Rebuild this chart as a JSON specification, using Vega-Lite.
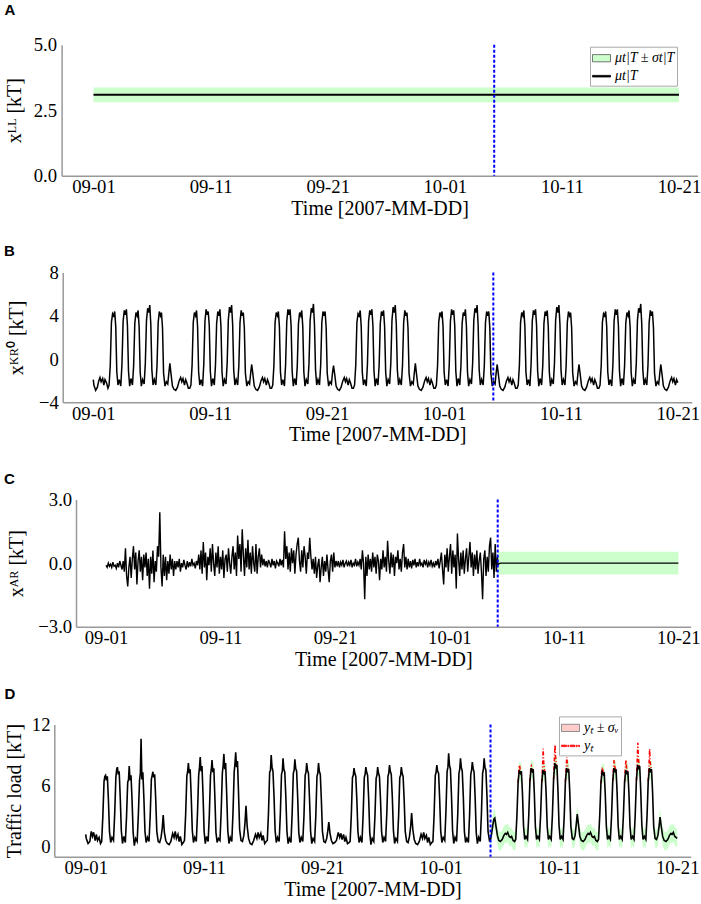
{
  "$schema": "https://vega.github.io/schema/vega-lite/v6.json",
  "padding": {"left": 0, "top": 2.7, "right": 0, "bottom": 0},
  "background": "white",
  "datasets": {
    "A": [{"t":0,"m":3.09,"lo":2.8,"hi":3.37},{"t":50,"m":3.09,"lo":2.8,"hi":3.37}],
    "cut": [{"t":34.22}],
    "legA": [{"lab":"μt|T ± σt|T"},{"lab":"μt|T"}],
    "legD": [{"lab":"yₜ ± σᵥ"},{"lab":"yₜ"}],
    "Cb": [{"t":34.22,"lo":-0.54,"hi":0.54},{"t":50,"lo":-0.54,"hi":0.54}],
    "B": [
      {"t":0,"v":-1.9},{"t":0.05,"v":-2.4},{"t":0.2,"v":-2.9},{"t":0.35,"v":-2.6},{"t":0.47,"v":-2.0},{"t":0.57,"v":-1.7},{"t":0.67,"v":-2.1},{"t":0.8,"v":-1.8},{"t":0.9,"v":-2.4},{"t":1.0,"v":-1.9},{"t":1.13,"v":-2.2},{"t":1.25,"v":-2.7},
      {"t":1.35,"v":-2.4},{"t":1.45,"v":-0.6},{"t":1.55,"v":3.4},{"t":1.65,"v":4.2},{"t":1.75,"v":4.0},{"t":1.83,"v":4.4},{"t":1.92,"v":3.0},{"t":2.01,"v":-1.2},{"t":2.11,"v":-2.4},{"t":2.22,"v":-1.9},
      {"t":2.35,"v":-2.5},{"t":2.45,"v":-0.5},{"t":2.55,"v":3.5},{"t":2.65,"v":4.5},{"t":2.75,"v":4.1},{"t":2.83,"v":4.6},{"t":2.92,"v":3.1},{"t":3.01,"v":-1.1},{"t":3.11,"v":-2.5},{"t":3.22,"v":-1.8},
      {"t":3.35,"v":-2.4},{"t":3.45,"v":-0.6},{"t":3.55,"v":3.3},{"t":3.65,"v":4.3},{"t":3.75,"v":4.0},{"t":3.83,"v":4.5},{"t":3.92,"v":3.0},{"t":4.01,"v":-1.2},{"t":4.11,"v":-2.5},{"t":4.22,"v":-1.9},
      {"t":4.35,"v":-2.3},{"t":4.45,"v":-0.4},{"t":4.55,"v":3.6},{"t":4.65,"v":4.7},{"t":4.75,"v":4.3},{"t":4.83,"v":5.0},{"t":4.92,"v":3.2},{"t":5.01,"v":-1.0},{"t":5.11,"v":-2.4},{"t":5.22,"v":-1.9},
      {"t":5.35,"v":-2.4},{"t":5.45,"v":-0.6},{"t":5.55,"v":3.4},{"t":5.65,"v":4.4},{"t":5.75,"v":4.0},{"t":5.83,"v":4.3},{"t":5.92,"v":2.9},{"t":6.01,"v":-1.3},
      {"t":6.13,"v":-2.5},{"t":6.25,"v":-2.1},{"t":6.37,"v":-2.3},{"t":6.47,"v":-1.2},{"t":6.55,"v":-0.4},{"t":6.65,"v":-1.4},{"t":6.77,"v":-2.5},{"t":6.9,"v":-2.8},{"t":7.05,"v":-2.9},{"t":7.2,"v":-2.6},{"t":7.35,"v":-2.0},{"t":7.47,"v":-1.7},{"t":7.57,"v":-2.1},{"t":7.67,"v":-1.8},{"t":7.8,"v":-2.4},{"t":7.9,"v":-1.9},{"t":8.0,"v":-2.2},{"t":8.13,"v":-2.7},{"t":8.25,"v":-2.7},
      {"t":8.35,"v":-2.4},{"t":8.45,"v":-0.6},{"t":8.55,"v":3.4},{"t":8.65,"v":4.3},{"t":8.75,"v":4.0},{"t":8.83,"v":4.5},{"t":8.92,"v":3.0},{"t":9.01,"v":-1.2},{"t":9.11,"v":-2.4},{"t":9.22,"v":-1.9},
      {"t":9.35,"v":-2.5},{"t":9.45,"v":-0.5},{"t":9.55,"v":3.5},{"t":9.65,"v":4.6},{"t":9.75,"v":4.1},{"t":9.83,"v":4.4},{"t":9.92,"v":3.1},{"t":10.01,"v":-1.1},{"t":10.11,"v":-2.5},{"t":10.22,"v":-1.8},
      {"t":10.35,"v":-2.4},{"t":10.45,"v":-0.6},{"t":10.55,"v":3.3},{"t":10.65,"v":4.4},{"t":10.75,"v":4.0},{"t":10.83,"v":4.6},{"t":10.92,"v":3.0},{"t":11.01,"v":-1.2},{"t":11.11,"v":-2.5},{"t":11.22,"v":-1.9},
      {"t":11.35,"v":-2.3},{"t":11.45,"v":-0.4},{"t":11.55,"v":3.6},{"t":11.65,"v":4.8},{"t":11.75,"v":4.3},{"t":11.83,"v":5.0},{"t":11.92,"v":3.2},{"t":12.01,"v":-1.0},{"t":12.11,"v":-2.4},{"t":12.22,"v":-1.9},
      {"t":12.35,"v":-2.4},{"t":12.45,"v":-0.6},{"t":12.55,"v":3.4},{"t":12.65,"v":4.5},{"t":12.75,"v":4.0},{"t":12.83,"v":4.3},{"t":12.92,"v":2.9},{"t":13.01,"v":-1.3},
      {"t":13.13,"v":-2.5},{"t":13.25,"v":-2.1},{"t":13.37,"v":-2.3},{"t":13.47,"v":-1.2},{"t":13.55,"v":-0.5},{"t":13.65,"v":-1.4},{"t":13.77,"v":-2.5},{"t":13.9,"v":-2.8},{"t":14.05,"v":-2.9},{"t":14.2,"v":-2.6},{"t":14.35,"v":-2.0},{"t":14.47,"v":-1.7},{"t":14.57,"v":-2.1},{"t":14.67,"v":-1.8},{"t":14.8,"v":-2.4},{"t":14.9,"v":-1.9},{"t":15.0,"v":-2.2},{"t":15.13,"v":-2.7},{"t":15.25,"v":-2.7},
      {"t":15.35,"v":-2.4},{"t":15.45,"v":-0.6},{"t":15.55,"v":3.4},{"t":15.65,"v":4.3},{"t":15.75,"v":4.0},{"t":15.83,"v":4.4},{"t":15.92,"v":3.0},{"t":16.01,"v":-1.2},{"t":16.11,"v":-2.4},{"t":16.22,"v":-1.9},
      {"t":16.35,"v":-2.5},{"t":16.45,"v":-0.5},{"t":16.55,"v":3.5},{"t":16.65,"v":4.6},{"t":16.75,"v":4.1},{"t":16.83,"v":4.6},{"t":16.92,"v":3.1},{"t":17.01,"v":-1.1},{"t":17.11,"v":-2.5},{"t":17.22,"v":-1.8},
      {"t":17.35,"v":-2.4},{"t":17.45,"v":-0.6},{"t":17.55,"v":3.3},{"t":17.65,"v":4.3},{"t":17.75,"v":4.0},{"t":17.83,"v":4.5},{"t":17.92,"v":3.0},{"t":18.01,"v":-1.2},{"t":18.11,"v":-2.5},{"t":18.22,"v":-1.9},
      {"t":18.35,"v":-2.3},{"t":18.45,"v":-0.4},{"t":18.55,"v":3.6},{"t":18.65,"v":4.7},{"t":18.75,"v":4.3},{"t":18.83,"v":5.1},{"t":18.92,"v":3.2},{"t":19.01,"v":-1.0},{"t":19.11,"v":-2.4},{"t":19.22,"v":-1.9},
      {"t":19.35,"v":-2.4},{"t":19.45,"v":-0.6},{"t":19.55,"v":3.4},{"t":19.65,"v":4.4},{"t":19.75,"v":4.0},{"t":19.83,"v":4.4},{"t":19.92,"v":2.9},{"t":20.01,"v":-1.3},
      {"t":20.13,"v":-2.5},{"t":20.25,"v":-2.1},{"t":20.37,"v":-2.3},{"t":20.47,"v":-1.2},{"t":20.55,"v":-0.6},{"t":20.65,"v":-1.4},{"t":20.77,"v":-2.5},{"t":20.9,"v":-2.8},{"t":21.05,"v":-2.9},{"t":21.2,"v":-2.6},{"t":21.35,"v":-2.0},{"t":21.47,"v":-1.7},{"t":21.57,"v":-2.1},{"t":21.67,"v":-1.8},{"t":21.8,"v":-2.4},{"t":21.9,"v":-1.9},{"t":22.0,"v":-2.2},{"t":22.13,"v":-2.7},{"t":22.25,"v":-2.7},
      {"t":22.35,"v":-2.4},{"t":22.45,"v":-0.6},{"t":22.55,"v":3.4},{"t":22.65,"v":4.2},{"t":22.75,"v":4.0},{"t":22.83,"v":4.5},{"t":22.92,"v":3.0},{"t":23.01,"v":-1.2},{"t":23.11,"v":-2.4},{"t":23.22,"v":-1.9},
      {"t":23.35,"v":-2.5},{"t":23.45,"v":-0.5},{"t":23.55,"v":3.5},{"t":23.65,"v":4.5},{"t":23.75,"v":4.1},{"t":23.83,"v":4.6},{"t":23.92,"v":3.1},{"t":24.01,"v":-1.1},{"t":24.11,"v":-2.5},{"t":24.22,"v":-1.8},
      {"t":24.35,"v":-2.4},{"t":24.45,"v":-0.6},{"t":24.55,"v":3.3},{"t":24.65,"v":4.4},{"t":24.75,"v":4.0},{"t":24.83,"v":4.5},{"t":24.92,"v":3.0},{"t":25.01,"v":-1.2},{"t":25.11,"v":-2.5},{"t":25.22,"v":-1.9},
      {"t":25.35,"v":-2.3},{"t":25.45,"v":-0.4},{"t":25.55,"v":3.6},{"t":25.65,"v":4.8},{"t":25.75,"v":4.3},{"t":25.83,"v":5.0},{"t":25.92,"v":3.2},{"t":26.01,"v":-1.0},{"t":26.11,"v":-2.4},{"t":26.22,"v":-1.9},
      {"t":26.35,"v":-2.4},{"t":26.45,"v":-0.6},{"t":26.55,"v":3.4},{"t":26.65,"v":4.5},{"t":26.75,"v":4.0},{"t":26.83,"v":4.3},{"t":26.92,"v":2.9},{"t":27.01,"v":-1.3},
      {"t":27.13,"v":-2.5},{"t":27.25,"v":-2.1},{"t":27.37,"v":-2.3},{"t":27.47,"v":-1.2},{"t":27.55,"v":-0.4},{"t":27.65,"v":-1.4},{"t":27.77,"v":-2.5},{"t":27.9,"v":-2.8},{"t":28.05,"v":-2.9},{"t":28.2,"v":-2.6},{"t":28.35,"v":-2.0},{"t":28.47,"v":-1.7},{"t":28.57,"v":-2.1},{"t":28.67,"v":-1.8},{"t":28.8,"v":-2.4},{"t":28.9,"v":-1.9},{"t":29.0,"v":-2.2},{"t":29.13,"v":-2.7},{"t":29.25,"v":-2.7},
      {"t":29.35,"v":-2.4},{"t":29.45,"v":-0.6},{"t":29.55,"v":3.4},{"t":29.65,"v":4.3},{"t":29.75,"v":4.0},{"t":29.83,"v":4.4},{"t":29.92,"v":3.0},{"t":30.01,"v":-1.2},{"t":30.11,"v":-2.4},{"t":30.22,"v":-1.9},
      {"t":30.35,"v":-2.5},{"t":30.45,"v":-0.5},{"t":30.55,"v":3.5},{"t":30.65,"v":4.6},{"t":30.75,"v":4.1},{"t":30.83,"v":4.5},{"t":30.92,"v":3.1},{"t":31.01,"v":-1.1},{"t":31.11,"v":-2.5},{"t":31.22,"v":-1.8},
      {"t":31.35,"v":-2.4},{"t":31.45,"v":-0.6},{"t":31.55,"v":3.3},{"t":31.65,"v":4.3},{"t":31.75,"v":4.0},{"t":31.83,"v":4.6},{"t":31.92,"v":3.0},{"t":32.01,"v":-1.2},{"t":32.11,"v":-2.5},{"t":32.22,"v":-1.9},
      {"t":32.35,"v":-2.3},{"t":32.45,"v":-0.4},{"t":32.55,"v":3.6},{"t":32.65,"v":4.7},{"t":32.75,"v":4.3},{"t":32.83,"v":5.0},{"t":32.92,"v":3.2},{"t":33.01,"v":-1.0},{"t":33.11,"v":-2.4},{"t":33.22,"v":-1.9},
      {"t":33.35,"v":-2.4},{"t":33.45,"v":-0.6},{"t":33.55,"v":3.4},{"t":33.65,"v":4.4},{"t":33.75,"v":4.0},{"t":33.83,"v":4.4},{"t":33.92,"v":2.9},{"t":34.01,"v":-1.3},
      {"t":34.13,"v":-2.5},{"t":34.25,"v":-2.1},{"t":34.37,"v":-2.3},{"t":34.47,"v":-1.2},{"t":34.55,"v":-0.5},{"t":34.65,"v":-1.4},{"t":34.77,"v":-2.5},{"t":34.9,"v":-2.8},{"t":35.05,"v":-2.9},{"t":35.2,"v":-2.6},{"t":35.35,"v":-2.0},{"t":35.47,"v":-1.7},{"t":35.57,"v":-2.1},{"t":35.67,"v":-1.8},{"t":35.8,"v":-2.4},{"t":35.9,"v":-1.9},{"t":36.0,"v":-2.2},{"t":36.13,"v":-2.7},{"t":36.25,"v":-2.7},
      {"t":36.35,"v":-2.4},{"t":36.45,"v":-0.6},{"t":36.55,"v":3.4},{"t":36.65,"v":4.3},{"t":36.75,"v":4.0},{"t":36.83,"v":4.5},{"t":36.92,"v":3.0},{"t":37.01,"v":-1.2},{"t":37.11,"v":-2.4},{"t":37.22,"v":-1.9},
      {"t":37.35,"v":-2.5},{"t":37.45,"v":-0.5},{"t":37.55,"v":3.5},{"t":37.65,"v":4.5},{"t":37.75,"v":4.1},{"t":37.83,"v":4.6},{"t":37.92,"v":3.1},{"t":38.01,"v":-1.1},{"t":38.11,"v":-2.5},{"t":38.22,"v":-1.8},
      {"t":38.35,"v":-2.4},{"t":38.45,"v":-0.6},{"t":38.55,"v":3.3},{"t":38.65,"v":4.4},{"t":38.75,"v":4.0},{"t":38.83,"v":4.5},{"t":38.92,"v":3.0},{"t":39.01,"v":-1.2},{"t":39.11,"v":-2.5},{"t":39.22,"v":-1.9},
      {"t":39.35,"v":-2.3},{"t":39.45,"v":-0.4},{"t":39.55,"v":3.6},{"t":39.65,"v":4.8},{"t":39.75,"v":4.3},{"t":39.83,"v":5.0},{"t":39.92,"v":3.2},{"t":40.01,"v":-1.0},{"t":40.11,"v":-2.4},{"t":40.22,"v":-1.9},
      {"t":40.35,"v":-2.4},{"t":40.45,"v":-0.6},{"t":40.55,"v":3.4},{"t":40.65,"v":4.4},{"t":40.75,"v":4.0},{"t":40.83,"v":4.3},{"t":40.92,"v":2.9},{"t":41.01,"v":-1.3},
      {"t":41.13,"v":-2.5},{"t":41.25,"v":-2.1},{"t":41.37,"v":-2.3},{"t":41.47,"v":-1.2},{"t":41.55,"v":-0.5},{"t":41.65,"v":-1.4},{"t":41.77,"v":-2.5},{"t":41.9,"v":-2.8},{"t":42.05,"v":-2.9},{"t":42.2,"v":-2.6},{"t":42.35,"v":-2.0},{"t":42.47,"v":-1.7},{"t":42.57,"v":-2.1},{"t":42.67,"v":-1.8},{"t":42.8,"v":-2.4},{"t":42.9,"v":-1.9},{"t":43.0,"v":-2.2},{"t":43.13,"v":-2.7},{"t":43.25,"v":-2.7},
      {"t":43.35,"v":-2.4},{"t":43.45,"v":-0.6},{"t":43.55,"v":3.4},{"t":43.65,"v":4.2},{"t":43.75,"v":4.0},{"t":43.83,"v":4.4},{"t":43.92,"v":3.0},{"t":44.01,"v":-1.2},{"t":44.11,"v":-2.4},{"t":44.22,"v":-1.9},
      {"t":44.35,"v":-2.5},{"t":44.45,"v":-0.5},{"t":44.55,"v":3.5},{"t":44.65,"v":4.6},{"t":44.75,"v":4.1},{"t":44.83,"v":4.6},{"t":44.92,"v":3.1},{"t":45.01,"v":-1.1},{"t":45.11,"v":-2.5},{"t":45.22,"v":-1.8},
      {"t":45.35,"v":-2.4},{"t":45.45,"v":-0.6},{"t":45.55,"v":3.3},{"t":45.65,"v":4.3},{"t":45.75,"v":4.0},{"t":45.83,"v":4.5},{"t":45.92,"v":3.0},{"t":46.01,"v":-1.2},{"t":46.11,"v":-2.5},{"t":46.22,"v":-1.9},
      {"t":46.35,"v":-2.3},{"t":46.45,"v":-0.4},{"t":46.55,"v":3.6},{"t":46.65,"v":4.7},{"t":46.75,"v":4.3},{"t":46.83,"v":5.1},{"t":46.92,"v":3.2},{"t":47.01,"v":-1.0},{"t":47.11,"v":-2.4},{"t":47.22,"v":-1.9},
      {"t":47.35,"v":-2.4},{"t":47.45,"v":-0.6},{"t":47.55,"v":3.4},{"t":47.65,"v":4.5},{"t":47.75,"v":4.0},{"t":47.83,"v":4.4},{"t":47.92,"v":2.9},{"t":48.01,"v":-1.3},
      {"t":48.13,"v":-2.5},{"t":48.25,"v":-2.1},{"t":48.37,"v":-2.3},{"t":48.47,"v":-1.2},{"t":48.55,"v":-0.5},{"t":48.65,"v":-1.4},{"t":48.77,"v":-2.5},{"t":48.9,"v":-2.8},{"t":49.05,"v":-2.9},{"t":49.2,"v":-2.6},{"t":49.35,"v":-2.0},{"t":49.47,"v":-1.7},{"t":49.57,"v":-2.1},{"t":49.67,"v":-1.8},{"t":49.8,"v":-2.4},{"t":49.9,"v":-1.9},{"t":50.0,"v":-2.2}
    ],
    "C": [
      {"t":0,"v":-0.1},{"t":0.1,"v":-0.2},{"t":0.2,"v":0.0},{"t":0.3,"v":-0.15},{"t":0.4,"v":-0.05},{"t":0.5,"v":-0.2},{"t":0.6,"v":0.05},{"t":0.7,"v":-0.15},{"t":0.8,"v":-0.1},{"t":0.9,"v":-0.25},{"t":1.0,"v":0.0},{"t":1.1,"v":-0.2},{"t":1.2,"v":0.1},{"t":1.3,"v":-0.1},{"t":1.4,"v":-0.3},{"t":1.5,"v":0.1},
      {"t":1.6,"v":-0.4},{"t":1.7,"v":0.7},{"t":1.8,"v":-0.6},{"t":1.9,"v":-1.1},{"t":2.0,"v":-0.2},
      {"t":2.1,"v":0.3},{"t":2.2,"v":-0.7},{"t":2.3,"v":0.2},{"t":2.4,"v":0.8},{"t":2.5,"v":-0.3},{"t":2.6,"v":0.5},{"t":2.7,"v":-1.0},{"t":2.8,"v":0.1},{"t":2.9,"v":0.6},{"t":3.0,"v":-0.4},{"t":3.1,"v":0.3},{"t":3.2,"v":-0.8},{"t":3.3,"v":0.4},{"t":3.4,"v":-0.2},{"t":3.5,"v":0.5},
      {"t":3.6,"v":-0.6},{"t":3.7,"v":0.2},{"t":3.8,"v":-1.2},{"t":3.9,"v":0.3},{"t":4.0,"v":-0.5},{"t":4.1,"v":0.6},{"t":4.2,"v":-0.9},{"t":4.3,"v":0.1},{"t":4.4,"v":-0.4},{"t":4.5,"v":0.8},
      {"t":4.6,"v":0.3},{"t":4.7,"v":2.4},{"t":4.8,"v":-0.2},{"t":4.9,"v":-1.1},{"t":5.0,"v":0.4},
      {"t":5.1,"v":-0.6},{"t":5.2,"v":0.3},{"t":5.3,"v":-0.8},{"t":5.4,"v":0.1},{"t":5.5,"v":-0.5},{"t":5.6,"v":0.4},{"t":5.7,"v":-0.3},{"t":5.8,"v":0.2},{"t":5.9,"v":-0.6},{"t":6.0,"v":0.1},
      {"t":6.1,"v":-0.3},{"t":6.2,"v":0.1},{"t":6.3,"v":-0.2},{"t":6.4,"v":0.2},{"t":6.5,"v":-0.4},{"t":6.6,"v":0.0},{"t":6.7,"v":-0.2},{"t":6.8,"v":0.15},{"t":6.9,"v":-0.1},{"t":7.0,"v":-0.3},{"t":7.1,"v":0.1},{"t":7.2,"v":-0.2},{"t":7.3,"v":0.05},{"t":7.4,"v":-0.15},{"t":7.5,"v":0.2},{"t":7.6,"v":-0.1},{"t":7.7,"v":0.0},{"t":7.8,"v":-0.25},{"t":7.9,"v":0.1},{"t":8.0,"v":-0.1},
      {"t":8.1,"v":0.4},{"t":8.2,"v":-0.3},{"t":8.3,"v":0.6},{"t":8.4,"v":-0.5},{"t":8.5,"v":1.0},{"t":8.6,"v":-0.2},{"t":8.7,"v":0.5},{"t":8.8,"v":-0.8},{"t":8.9,"v":0.3},{"t":9.0,"v":-0.1},
      {"t":9.1,"v":0.7},{"t":9.2,"v":-0.4},{"t":9.3,"v":0.9},{"t":9.4,"v":0.0},{"t":9.5,"v":-0.6},{"t":9.6,"v":0.5},{"t":9.7,"v":-0.2},{"t":9.8,"v":0.8},{"t":9.9,"v":-0.5},{"t":10.0,"v":0.3},{"t":10.1,"v":-0.3},{"t":10.2,"v":0.6},{"t":10.3,"v":-0.7},{"t":10.4,"v":0.2},{"t":10.5,"v":0.4},{"t":10.6,"v":-0.4},{"t":10.7,"v":0.7},{"t":10.8,"v":0.0},{"t":10.9,"v":-0.5},{"t":11.0,"v":0.3},
      {"t":11.1,"v":0.8},{"t":11.2,"v":-0.3},{"t":11.3,"v":0.5},{"t":11.4,"v":-0.6},{"t":11.5,"v":1.3},{"t":11.6,"v":0.2},{"t":11.7,"v":0.9},{"t":11.8,"v":-0.4},{"t":11.9,"v":1.6},{"t":12.0,"v":0.4},{"t":12.1,"v":-0.6},{"t":12.2,"v":0.7},{"t":12.3,"v":-0.2},{"t":12.4,"v":1.1},{"t":12.5,"v":-0.3},{"t":12.6,"v":0.5},{"t":12.7,"v":-0.5},{"t":12.8,"v":0.8},{"t":12.9,"v":0.0},{"t":13.0,"v":-0.4},
      {"t":13.1,"v":0.9},{"t":13.2,"v":-0.5},{"t":13.3,"v":0.3},{"t":13.4,"v":0.7},{"t":13.5,"v":-0.2},{"t":13.6,"v":0.4},{"t":13.7,"v":-0.1},
      {"t":13.8,"v":0.2},{"t":13.9,"v":-0.15},{"t":14.0,"v":0.1},{"t":14.1,"v":-0.2},{"t":14.2,"v":0.15},{"t":14.3,"v":0.0},{"t":14.4,"v":-0.2},{"t":14.5,"v":0.2},{"t":14.6,"v":-0.1},{"t":14.7,"v":0.1},{"t":14.8,"v":-0.25},{"t":14.9,"v":0.1},{"t":15.0,"v":0.0},{"t":15.1,"v":-0.15},{"t":15.2,"v":0.2},{"t":15.3,"v":-0.1},{"t":15.4,"v":0.15},{"t":15.5,"v":-0.2},
      {"t":15.6,"v":1.5},{"t":15.7,"v":0.2},{"t":15.8,"v":0.8},{"t":15.9,"v":-0.3},{"t":16.0,"v":0.5},
      {"t":16.1,"v":-0.4},{"t":16.2,"v":0.7},{"t":16.3,"v":0.0},{"t":16.4,"v":0.6},{"t":16.5,"v":-0.5},{"t":16.6,"v":0.4},{"t":16.7,"v":0.9},{"t":16.8,"v":1.2},{"t":16.9,"v":0.1},{"t":17.0,"v":-0.4},{"t":17.1,"v":0.6},{"t":17.2,"v":-0.2},{"t":17.3,"v":0.8},{"t":17.4,"v":0.3},{"t":17.5,"v":-0.5},{"t":17.6,"v":0.5},{"t":17.7,"v":0.2},{"t":17.8,"v":1.2},{"t":17.9,"v":0.3},{"t":18.0,"v":-0.3},
      {"t":18.1,"v":0.2},{"t":18.2,"v":-0.5},{"t":18.3,"v":0.3},{"t":18.4,"v":-0.7},{"t":18.5,"v":-0.1},{"t":18.6,"v":0.2},{"t":18.7,"v":-0.9},{"t":18.8,"v":-0.2},{"t":18.9,"v":0.3},{"t":19.0,"v":-0.6},{"t":19.1,"v":0.1},{"t":19.2,"v":-0.4},{"t":19.3,"v":0.4},{"t":19.4,"v":-0.3},{"t":19.5,"v":-0.9},{"t":19.6,"v":0.1},{"t":19.7,"v":0.4},{"t":19.8,"v":-0.4},{"t":19.9,"v":0.5},{"t":20.0,"v":-0.2},{"t":20.1,"v":0.1},
      {"t":20.2,"v":-0.15},{"t":20.3,"v":0.1},{"t":20.4,"v":-0.2},{"t":20.5,"v":0.05},{"t":20.6,"v":-0.1},{"t":20.7,"v":0.15},{"t":20.8,"v":-0.2},{"t":20.9,"v":0.0},{"t":21.0,"v":0.1},{"t":21.1,"v":-0.15},{"t":21.2,"v":0.05},{"t":21.3,"v":-0.1},{"t":21.4,"v":0.15},{"t":21.5,"v":-0.2},{"t":21.6,"v":0.0},{"t":21.7,"v":-0.1},{"t":21.8,"v":0.2},{"t":21.9,"v":-0.15},{"t":22.0,"v":0.05},{"t":22.1,"v":-0.1},{"t":22.2,"v":0.2},
      {"t":22.3,"v":-0.3},{"t":22.4,"v":0.6},{"t":22.5,"v":0.0},{"t":22.6,"v":-1.7},{"t":22.7,"v":0.3},{"t":22.8,"v":-0.6},{"t":22.9,"v":0.4},{"t":23.0,"v":-0.3},{"t":23.1,"v":0.2},
      {"t":23.2,"v":-0.4},{"t":23.3,"v":0.5},{"t":23.4,"v":-0.2},{"t":23.5,"v":0.3},{"t":23.6,"v":-0.5},{"t":23.7,"v":0.4},{"t":23.8,"v":0.1},{"t":23.9,"v":-0.8},{"t":24.0,"v":0.2},{"t":24.1,"v":-0.3},{"t":24.2,"v":0.6},{"t":24.3,"v":-0.2},{"t":24.4,"v":0.3},{"t":24.5,"v":-0.4},{"t":24.6,"v":1.05},{"t":24.7,"v":0.1},{"t":24.8,"v":-0.5},{"t":24.9,"v":0.5},{"t":25.0,"v":-0.2},{"t":25.1,"v":0.4},{"t":25.2,"v":-0.6},{"t":25.3,"v":0.3},{"t":25.4,"v":0.0},{"t":25.5,"v":0.6},{"t":25.6,"v":-0.3},{"t":25.7,"v":0.2},{"t":25.8,"v":-0.4},{"t":25.9,"v":0.5},{"t":26.0,"v":0.9},{"t":26.1,"v":-0.2},{"t":26.2,"v":0.3},{"t":26.3,"v":-0.3},
      {"t":26.4,"v":0.2},{"t":26.5,"v":-0.2},{"t":26.6,"v":0.1},{"t":26.7,"v":-0.25},{"t":26.8,"v":0.15},{"t":26.9,"v":-0.1},{"t":27.0,"v":0.2},{"t":27.1,"v":-0.2},{"t":27.2,"v":0.05},{"t":27.3,"v":-0.15},{"t":27.4,"v":0.2},{"t":27.5,"v":-0.1},{"t":27.6,"v":0.0},{"t":27.7,"v":-0.2},{"t":27.8,"v":0.15},{"t":27.9,"v":-0.05},{"t":28.0,"v":0.1},{"t":28.1,"v":-0.2},{"t":28.2,"v":0.05},{"t":28.3,"v":-0.1},{"t":28.4,"v":0.15},{"t":28.5,"v":-0.15},{"t":28.6,"v":0.0},{"t":28.7,"v":-0.2},{"t":28.8,"v":0.1},{"t":28.9,"v":-0.1},{"t":29.0,"v":0.2},{"t":29.1,"v":-0.25},{"t":29.2,"v":0.1},
      {"t":29.3,"v":0.5},{"t":29.4,"v":-0.3},{"t":29.5,"v":-1.0},{"t":29.6,"v":0.4},{"t":29.7,"v":-0.2},{"t":29.8,"v":0.7},{"t":29.9,"v":-0.4},{"t":30.0,"v":0.3},{"t":30.1,"v":0.9},{"t":30.2,"v":-0.5},{"t":30.3,"v":0.6},{"t":30.4,"v":-0.2},{"t":30.5,"v":0.4},{"t":30.6,"v":-1.2},{"t":30.7,"v":1.4},{"t":30.8,"v":0.2},{"t":30.9,"v":-0.6},{"t":31.0,"v":0.5},
      {"t":31.1,"v":-0.3},{"t":31.2,"v":0.6},{"t":31.3,"v":-0.5},{"t":31.4,"v":0.2},{"t":31.5,"v":0.7},{"t":31.6,"v":-0.4},{"t":31.7,"v":0.3},{"t":31.8,"v":1.0},{"t":31.9,"v":-0.2},{"t":32.0,"v":0.5},{"t":32.1,"v":-0.6},{"t":32.2,"v":0.4},{"t":32.3,"v":-0.3},{"t":32.4,"v":0.6},{"t":32.5,"v":-0.5},{"t":32.6,"v":0.1},{"t":32.7,"v":0.5},{"t":32.8,"v":-0.4},{"t":32.9,"v":-1.7},{"t":33.0,"v":0.2},{"t":33.1,"v":0.6},{"t":33.2,"v":-0.6},{"t":33.3,"v":0.3},{"t":33.4,"v":-0.4},{"t":33.5,"v":0.8},{"t":33.6,"v":1.2},{"t":33.7,"v":-0.3},{"t":33.8,"v":0.5},{"t":33.9,"v":-0.7},{"t":34.0,"v":0.9},{"t":34.1,"v":-0.4},{"t":34.2,"v":0.3},
      {"t":34.22,"v":-0.1},{"t":34.35,"v":-0.02},{"t":34.5,"v":0},{"t":50,"v":0}
    ],
    "D": [
      {"t":0,"y":1.2},{"t":0.05,"y":0.8},{"t":0.2,"y":0.3},{"t":0.35,"y":0.5},{"t":0.47,"y":1.5},{"t":0.57,"y":1.0},{"t":0.67,"y":1.4},{"t":0.8,"y":0.6},{"t":0.9,"y":1.2},{"t":1.0,"y":0.6},{"t":1.13,"y":0.9},{"t":1.25,"y":0.3},
      {"t":1.35,"y":0.5},{"t":1.45,"y":3.0},{"t":1.55,"y":6.4},{"t":1.62,"y":6.9},{"t":1.68,"y":7.0},{"t":1.75,"y":6.5},{"t":1.83,"y":6.9},{"t":1.92,"y":4.6},{"t":2.01,"y":1.5},{"t":2.11,"y":0.4},{"t":2.22,"y":0.9},
      {"t":2.35,"y":0.6},{"t":2.45,"y":3.2},{"t":2.55,"y":6.8},{"t":2.62,"y":7.6},{"t":2.68,"y":7.8},{"t":2.75,"y":7.1},{"t":2.83,"y":7.4},{"t":2.92,"y":4.8},{"t":3.01,"y":1.6},{"t":3.11,"y":0.3},{"t":3.22,"y":1.0},
      {"t":3.35,"y":0.4},{"t":3.45,"y":2.9},{"t":3.55,"y":6.3},{"t":3.62,"y":6.6},{"t":3.68,"y":7.9},{"t":3.75,"y":6.5},{"t":3.83,"y":7.0},{"t":3.92,"y":4.5},{"t":4.01,"y":1.4},{"t":4.11,"y":0.1},{"t":4.22,"y":0.8},
      {"t":4.35,"y":0.5},{"t":4.45,"y":3.1},{"t":4.55,"y":6.5},{"t":4.62,"y":7.2},{"t":4.68,"y":10.6},{"t":4.75,"y":6.6},{"t":4.83,"y":7.3},{"t":4.92,"y":4.7},{"t":5.01,"y":1.5},{"t":5.11,"y":0.4},{"t":5.22,"y":0.9},
      {"t":5.35,"y":0.5},{"t":5.45,"y":3.0},{"t":5.55,"y":6.6},{"t":5.62,"y":7.0},{"t":5.68,"y":7.35},{"t":5.75,"y":6.8},{"t":5.83,"y":7.1},{"t":5.92,"y":4.6},{"t":6.01,"y":1.5},
      {"t":6.13,"y":0.5},{"t":6.25,"y":0.4},{"t":6.37,"y":0.9},{"t":6.47,"y":1.8},{"t":6.55,"y":3.1},{"t":6.65,"y":1.4},{"t":6.77,"y":0.6},{"t":6.9,"y":0.3},{"t":7.05,"y":0.2},{"t":7.2,"y":0.5},{"t":7.35,"y":1.3},{"t":7.47,"y":0.9},{"t":7.57,"y":1.5},{"t":7.67,"y":0.8},{"t":7.8,"y":1.2},{"t":7.9,"y":0.5},{"t":8.0,"y":1.0},{"t":8.13,"y":0.2},{"t":8.25,"y":0.4},
      {"t":8.35,"y":0.6},{"t":8.45,"y":3.2},{"t":8.55,"y":6.9},{"t":8.62,"y":7.4},{"t":8.68,"y":8.2},{"t":8.75,"y":7.2},{"t":8.83,"y":7.6},{"t":8.92,"y":4.9},{"t":9.01,"y":1.6},{"t":9.11,"y":0.4},{"t":9.22,"y":0.9},
      {"t":9.35,"y":0.5},{"t":9.45,"y":3.3},{"t":9.55,"y":7.0},{"t":9.62,"y":7.8},{"t":9.68,"y":8.8},{"t":9.75,"y":7.4},{"t":9.83,"y":7.9},{"t":9.92,"y":5.0},{"t":10.01,"y":1.5},{"t":10.11,"y":0.3},{"t":10.22,"y":1.0},
      {"t":10.35,"y":0.5},{"t":10.45,"y":3.1},{"t":10.55,"y":7.0},{"t":10.62,"y":7.6},{"t":10.68,"y":8.5},{"t":10.75,"y":7.3},{"t":10.83,"y":7.7},{"t":10.92,"y":4.8},{"t":11.01,"y":1.4},{"t":11.11,"y":0.4},{"t":11.22,"y":0.8},
      {"t":11.35,"y":0.6},{"t":11.45,"y":3.4},{"t":11.55,"y":7.2},{"t":11.62,"y":8.0},{"t":11.68,"y":9.1},{"t":11.75,"y":7.6},{"t":11.83,"y":8.2},{"t":11.92,"y":5.1},{"t":12.01,"y":1.6},{"t":12.11,"y":0.3},{"t":12.22,"y":0.9},
      {"t":12.35,"y":0.5},{"t":12.45,"y":3.3},{"t":12.55,"y":7.3},{"t":12.62,"y":8.2},{"t":12.68,"y":9.25},{"t":12.75,"y":7.8},{"t":12.83,"y":8.4},{"t":12.92,"y":5.2},{"t":13.01,"y":1.7},
      {"t":13.13,"y":0.6},{"t":13.25,"y":0.5},{"t":13.37,"y":1.1},{"t":13.47,"y":2.4},{"t":13.55,"y":4.0},{"t":13.65,"y":2.0},{"t":13.77,"y":0.8},{"t":13.9,"y":0.3},{"t":14.05,"y":0.2},{"t":14.2,"y":0.6},{"t":14.35,"y":1.2},{"t":14.47,"y":0.8},{"t":14.57,"y":1.4},{"t":14.67,"y":0.9},{"t":14.8,"y":1.3},{"t":14.9,"y":0.6},{"t":15.0,"y":1.1},{"t":15.13,"y":0.3},{"t":15.25,"y":0.5},
      {"t":15.35,"y":0.6},{"t":15.45,"y":3.3},{"t":15.55,"y":7.3},{"t":15.62,"y":7.5},{"t":15.68,"y":9.0},{"t":15.75,"y":7.8},{"t":15.83,"y":7.4},{"t":15.92,"y":4.9},{"t":16.01,"y":1.6},{"t":16.11,"y":0.4},{"t":16.22,"y":0.9},
      {"t":16.35,"y":0.5},{"t":16.45,"y":3.1},{"t":16.55,"y":7.1},{"t":16.62,"y":7.4},{"t":16.68,"y":8.66},{"t":16.75,"y":7.6},{"t":16.83,"y":7.3},{"t":16.92,"y":4.8},{"t":17.01,"y":1.5},{"t":17.11,"y":0.3},{"t":17.22,"y":0.8},
      {"t":17.35,"y":0.4},{"t":17.45,"y":3.2},{"t":17.55,"y":7.2},{"t":17.62,"y":7.5},{"t":17.68,"y":8.56},{"t":17.75,"y":7.7},{"t":17.83,"y":7.4},{"t":17.92,"y":4.8},{"t":18.01,"y":1.4},{"t":18.11,"y":0.4},{"t":18.22,"y":0.9},
      {"t":18.35,"y":0.5},{"t":18.45,"y":3.0},{"t":18.55,"y":7.0},{"t":18.62,"y":7.3},{"t":18.68,"y":8.2},{"t":18.75,"y":7.5},{"t":18.83,"y":7.2},{"t":18.92,"y":4.7},{"t":19.01,"y":1.5},{"t":19.11,"y":0.3},{"t":19.22,"y":0.8},
      {"t":19.35,"y":0.5},{"t":19.45,"y":3.0},{"t":19.55,"y":6.9},{"t":19.62,"y":7.2},{"t":19.68,"y":8.2},{"t":19.75,"y":7.4},{"t":19.83,"y":7.1},{"t":19.92,"y":4.6},{"t":20.01,"y":1.5},
      {"t":20.13,"y":0.5},{"t":20.25,"y":0.4},{"t":20.37,"y":0.8},{"t":20.47,"y":1.6},{"t":20.55,"y":2.4},{"t":20.65,"y":1.3},{"t":20.77,"y":0.6},{"t":20.9,"y":0.3},{"t":21.05,"y":0.4},{"t":21.2,"y":0.6},{"t":21.35,"y":1.4},{"t":21.47,"y":0.9},{"t":21.57,"y":1.3},{"t":21.67,"y":0.7},{"t":21.8,"y":1.2},{"t":21.9,"y":0.5},{"t":22.0,"y":0.9},{"t":22.13,"y":0.3},{"t":22.25,"y":0.4},
      {"t":22.35,"y":0.5},{"t":22.45,"y":3.0},{"t":22.55,"y":6.8},{"t":22.62,"y":7.0},{"t":22.68,"y":7.7},{"t":22.75,"y":7.2},{"t":22.83,"y":6.9},{"t":22.92,"y":4.6},{"t":23.01,"y":1.5},{"t":23.11,"y":0.4},{"t":23.22,"y":0.9},
      {"t":23.35,"y":0.4},{"t":23.45,"y":3.1},{"t":23.55,"y":6.8},{"t":23.62,"y":7.1},{"t":23.68,"y":7.8},{"t":23.75,"y":7.3},{"t":23.83,"y":7.0},{"t":23.92,"y":4.7},{"t":24.01,"y":1.4},{"t":24.11,"y":0.2},{"t":24.22,"y":0.8},
      {"t":24.35,"y":0.5},{"t":24.45,"y":3.0},{"t":24.55,"y":6.7},{"t":24.62,"y":7.0},{"t":24.68,"y":7.8},{"t":24.75,"y":7.2},{"t":24.83,"y":6.9},{"t":24.92,"y":4.6},{"t":25.01,"y":1.5},{"t":25.11,"y":0.4},{"t":25.22,"y":0.9},
      {"t":25.35,"y":0.5},{"t":25.45,"y":3.2},{"t":25.55,"y":6.9},{"t":25.62,"y":7.2},{"t":25.68,"y":8.0},{"t":25.75,"y":7.4},{"t":25.83,"y":7.1},{"t":25.92,"y":4.8},{"t":26.01,"y":1.6},{"t":26.11,"y":0.3},{"t":26.22,"y":0.8},
      {"t":26.35,"y":0.5},{"t":26.45,"y":3.0},{"t":26.55,"y":6.8},{"t":26.62,"y":7.0},{"t":26.68,"y":7.8},{"t":26.75,"y":7.2},{"t":26.83,"y":6.9},{"t":26.92,"y":4.6},{"t":27.01,"y":1.5},
      {"t":27.13,"y":0.5},{"t":27.25,"y":0.4},{"t":27.37,"y":1.0},{"t":27.47,"y":2.0},{"t":27.55,"y":3.3},{"t":27.65,"y":1.7},{"t":27.77,"y":0.7},{"t":27.9,"y":0.3},{"t":28.05,"y":0.2},{"t":28.2,"y":0.5},{"t":28.35,"y":1.2},{"t":28.47,"y":0.8},{"t":28.57,"y":1.4},{"t":28.67,"y":0.8},{"t":28.8,"y":1.1},{"t":28.9,"y":0.4},{"t":29.0,"y":0.9},{"t":29.13,"y":0.2},{"t":29.25,"y":0.4},
      {"t":29.35,"y":0.5},{"t":29.45,"y":3.1},{"t":29.55,"y":7.0},{"t":29.62,"y":7.3},{"t":29.68,"y":8.0},{"t":29.75,"y":7.4},{"t":29.83,"y":7.2},{"t":29.92,"y":4.7},{"t":30.01,"y":1.5},{"t":30.11,"y":0.4},{"t":30.22,"y":0.9},
      {"t":30.35,"y":0.6},{"t":30.45,"y":3.4},{"t":30.55,"y":7.4},{"t":30.62,"y":7.8},{"t":30.68,"y":9.15},{"t":30.75,"y":8.0},{"t":30.83,"y":7.6},{"t":30.92,"y":5.0},{"t":31.01,"y":1.6},{"t":31.11,"y":0.3},{"t":31.22,"y":0.9},
      {"t":31.35,"y":0.5},{"t":31.45,"y":3.2},{"t":31.55,"y":7.2},{"t":31.62,"y":7.6},{"t":31.68,"y":8.66},{"t":31.75,"y":7.8},{"t":31.83,"y":7.4},{"t":31.92,"y":4.9},{"t":32.01,"y":1.5},{"t":32.11,"y":0.4},{"t":32.22,"y":0.8},
      {"t":32.35,"y":0.4},{"t":32.45,"y":3.1},{"t":32.55,"y":7.1},{"t":32.62,"y":7.5},{"t":32.68,"y":8.3},{"t":32.75,"y":7.7},{"t":32.83,"y":7.3},{"t":32.92,"y":4.8},{"t":33.01,"y":1.4},{"t":33.11,"y":0.3},{"t":33.22,"y":0.9},
      {"t":33.35,"y":0.5},{"t":33.45,"y":3.2},{"t":33.55,"y":7.2},{"t":33.62,"y":7.6},{"t":33.68,"y":8.66},{"t":33.75,"y":7.8},{"t":33.83,"y":7.5},{"t":33.92,"y":4.9},{"t":34.01,"y":1.5},{"t":34.13,"y":0.6},
      {"t":34.22,"y":0.7,"lo":-0.2,"hi":1.6},{"t":34.3,"y":1.2,"lo":0.3,"hi":2.1},{"t":34.4,"y":2.0,"lo":1.1,"hi":2.9},{"t":34.5,"y":2.7,"lo":1.8,"hi":3.6},{"t":34.58,"y":2.8,"lo":1.9,"hi":3.7},{"t":34.68,"y":2.0,"lo":1.1,"hi":2.9},{"t":34.8,"y":1.1,"lo":0.2,"hi":2.0},{"t":34.92,"y":0.6,"lo":-0.3,"hi":1.5},{"t":35.05,"y":0.5,"lo":-0.4,"hi":1.4},{"t":35.2,"y":0.7,"lo":-0.2,"hi":1.6},{"t":35.35,"y":1.1,"lo":0.2,"hi":2.0},{"t":35.47,"y":1.3,"lo":0.4,"hi":2.2},{"t":35.57,"y":1.2,"lo":0.3,"hi":2.1},{"t":35.67,"y":1.4,"lo":0.5,"hi":2.3},{"t":35.8,"y":1.0,"lo":0.1,"hi":1.9},{"t":35.9,"y":0.9,"lo":0.0,"hi":1.8},{"t":36.0,"y":1.0,"lo":0.1,"hi":1.9},{"t":36.13,"y":0.6,"lo":-0.3,"hi":1.5},{"t":36.25,"y":0.5,"lo":-0.4,"hi":1.4},
      {"t":36.35,"y":0.7,"lo":-0.2,"hi":1.6},{"t":36.45,"y":3.0,"lo":2.1,"hi":3.9},{"t":36.55,"y":6.3,"lo":5.4,"hi":7.2},{"t":36.65,"y":7.5,"lo":6.6,"hi":8.4},{"t":36.75,"y":7.2,"lo":6.3,"hi":8.1},{"t":36.83,"y":7.4,"lo":6.5,"hi":8.3},{"t":36.92,"y":5.2,"lo":4.3,"hi":6.1},{"t":37.01,"y":2.0,"lo":1.1,"hi":2.9},{"t":37.11,"y":0.7,"lo":-0.2,"hi":1.6},{"t":37.22,"y":1.0,"lo":0.1,"hi":1.9},
      {"t":37.35,"y":0.7,"lo":-0.2,"hi":1.6},{"t":37.45,"y":3.0,"lo":2.1,"hi":3.9},{"t":37.55,"y":6.4,"lo":5.5,"hi":7.3},{"t":37.65,"y":7.7,"lo":6.8,"hi":8.6},{"t":37.75,"y":7.4,"lo":6.5,"hi":8.3},{"t":37.83,"y":7.6,"lo":6.7,"hi":8.5},{"t":37.92,"y":5.3,"lo":4.4,"hi":6.2},{"t":38.01,"y":2.0,"lo":1.1,"hi":2.9},{"t":38.11,"y":0.7,"lo":-0.2,"hi":1.6},{"t":38.22,"y":1.0,"lo":0.1,"hi":1.9},
      {"t":38.35,"y":0.7,"lo":-0.2,"hi":1.6},{"t":38.45,"y":3.0,"lo":2.1,"hi":3.9},{"t":38.55,"y":6.3,"lo":5.4,"hi":7.2},{"t":38.65,"y":7.5,"lo":6.6,"hi":8.4},{"t":38.75,"y":7.2,"lo":6.3,"hi":8.1},{"t":38.83,"y":7.4,"lo":6.5,"hi":8.3},{"t":38.92,"y":5.2,"lo":4.3,"hi":6.1},{"t":39.01,"y":2.0,"lo":1.1,"hi":2.9},{"t":39.11,"y":0.7,"lo":-0.2,"hi":1.6},{"t":39.22,"y":1.0,"lo":0.1,"hi":1.9},
      {"t":39.35,"y":0.7,"lo":-0.2,"hi":1.6},{"t":39.45,"y":3.1,"lo":2.2,"hi":4.0},{"t":39.55,"y":6.6,"lo":5.7,"hi":7.5},{"t":39.65,"y":8.2,"lo":7.3,"hi":9.1},{"t":39.75,"y":7.8,"lo":6.9,"hi":8.7},{"t":39.83,"y":8.0,"lo":7.1,"hi":8.9},{"t":39.92,"y":5.5,"lo":4.6,"hi":6.4},{"t":40.01,"y":2.1,"lo":1.2,"hi":3.0},{"t":40.11,"y":0.7,"lo":-0.2,"hi":1.6},{"t":40.22,"y":1.0,"lo":0.1,"hi":1.9},
      {"t":40.35,"y":0.7,"lo":-0.2,"hi":1.6},{"t":40.45,"y":3.0,"lo":2.1,"hi":3.9},{"t":40.55,"y":6.4,"lo":5.5,"hi":7.3},{"t":40.65,"y":7.7,"lo":6.8,"hi":8.6},{"t":40.75,"y":7.4,"lo":6.5,"hi":8.3},{"t":40.83,"y":7.6,"lo":6.7,"hi":8.5},{"t":40.92,"y":5.3,"lo":4.4,"hi":6.2},{"t":41.01,"y":2.0,"lo":1.1,"hi":2.9},
      {"t":41.13,"y":0.8,"lo":-0.1,"hi":1.7},{"t":41.25,"y":0.7,"lo":-0.2,"hi":1.6},{"t":41.37,"y":1.1,"lo":0.2,"hi":2.0},{"t":41.47,"y":2.2,"lo":1.3,"hi":3.1},{"t":41.55,"y":3.2,"lo":2.3,"hi":4.1},{"t":41.65,"y":2.2,"lo":1.3,"hi":3.1},{"t":41.77,"y":1.0,"lo":0.1,"hi":1.9},{"t":41.9,"y":0.6,"lo":-0.3,"hi":1.5},{"t":42.05,"y":0.5,"lo":-0.4,"hi":1.4},{"t":42.2,"y":0.7,"lo":-0.2,"hi":1.6},{"t":42.35,"y":1.1,"lo":0.2,"hi":2.0},{"t":42.47,"y":1.3,"lo":0.4,"hi":2.2},{"t":42.57,"y":1.2,"lo":0.3,"hi":2.1},{"t":42.67,"y":1.4,"lo":0.5,"hi":2.3},{"t":42.8,"y":1.0,"lo":0.1,"hi":1.9},{"t":42.9,"y":0.9,"lo":0.0,"hi":1.8},{"t":43.0,"y":1.0,"lo":0.1,"hi":1.9},{"t":43.13,"y":0.6,"lo":-0.3,"hi":1.5},{"t":43.25,"y":0.5,"lo":-0.4,"hi":1.4},
      {"t":43.35,"y":0.7,"lo":-0.2,"hi":1.6},{"t":43.45,"y":3.0,"lo":2.1,"hi":3.9},{"t":43.55,"y":6.2,"lo":5.3,"hi":7.1},{"t":43.65,"y":7.35,"lo":6.45,"hi":8.25},{"t":43.75,"y":7.1,"lo":6.2,"hi":8.0},{"t":43.83,"y":7.3,"lo":6.4,"hi":8.2},{"t":43.92,"y":5.1,"lo":4.2,"hi":6.0},{"t":44.01,"y":2.0,"lo":1.1,"hi":2.9},{"t":44.11,"y":0.7,"lo":-0.2,"hi":1.6},{"t":44.22,"y":1.0,"lo":0.1,"hi":1.9},
      {"t":44.35,"y":0.7,"lo":-0.2,"hi":1.6},{"t":44.45,"y":3.0,"lo":2.1,"hi":3.9},{"t":44.55,"y":6.4,"lo":5.5,"hi":7.3},{"t":44.65,"y":7.7,"lo":6.8,"hi":8.6},{"t":44.75,"y":7.4,"lo":6.5,"hi":8.3},{"t":44.83,"y":7.6,"lo":6.7,"hi":8.5},{"t":44.92,"y":5.3,"lo":4.4,"hi":6.2},{"t":45.01,"y":2.0,"lo":1.1,"hi":2.9},{"t":45.11,"y":0.7,"lo":-0.2,"hi":1.6},{"t":45.22,"y":1.0,"lo":0.1,"hi":1.9},
      {"t":45.35,"y":0.7,"lo":-0.2,"hi":1.6},{"t":45.45,"y":3.0,"lo":2.1,"hi":3.9},{"t":45.55,"y":6.3,"lo":5.4,"hi":7.2},{"t":45.65,"y":7.5,"lo":6.6,"hi":8.4},{"t":45.75,"y":7.2,"lo":6.3,"hi":8.1},{"t":45.83,"y":7.4,"lo":6.5,"hi":8.3},{"t":45.92,"y":5.2,"lo":4.3,"hi":6.1},{"t":46.01,"y":2.0,"lo":1.1,"hi":2.9},{"t":46.11,"y":0.7,"lo":-0.2,"hi":1.6},{"t":46.22,"y":1.0,"lo":0.1,"hi":1.9},
      {"t":46.35,"y":0.7,"lo":-0.2,"hi":1.6},{"t":46.45,"y":3.1,"lo":2.2,"hi":4.0},{"t":46.55,"y":6.5,"lo":5.6,"hi":7.4},{"t":46.65,"y":8.0,"lo":7.1,"hi":8.9},{"t":46.75,"y":7.7,"lo":6.8,"hi":8.6},{"t":46.83,"y":7.9,"lo":7.0,"hi":8.8},{"t":46.92,"y":5.4,"lo":4.5,"hi":6.3},{"t":47.01,"y":2.1,"lo":1.2,"hi":3.0},{"t":47.11,"y":0.7,"lo":-0.2,"hi":1.6},{"t":47.22,"y":1.0,"lo":0.1,"hi":1.9},
      {"t":47.35,"y":0.7,"lo":-0.2,"hi":1.6},{"t":47.45,"y":3.0,"lo":2.1,"hi":3.9},{"t":47.55,"y":6.4,"lo":5.5,"hi":7.3},{"t":47.65,"y":7.7,"lo":6.8,"hi":8.6},{"t":47.75,"y":7.4,"lo":6.5,"hi":8.3},{"t":47.83,"y":7.6,"lo":6.7,"hi":8.5},{"t":47.92,"y":5.3,"lo":4.4,"hi":6.2},{"t":48.01,"y":2.0,"lo":1.1,"hi":2.9},
      {"t":48.13,"y":0.8,"lo":-0.1,"hi":1.7},{"t":48.25,"y":0.7,"lo":-0.2,"hi":1.6},{"t":48.37,"y":1.1,"lo":0.2,"hi":2.0},{"t":48.47,"y":2.0,"lo":1.1,"hi":2.9},{"t":48.55,"y":2.9,"lo":2.0,"hi":3.8},{"t":48.65,"y":2.0,"lo":1.1,"hi":2.9},{"t":48.77,"y":1.0,"lo":0.1,"hi":1.9},{"t":48.9,"y":0.6,"lo":-0.3,"hi":1.5},{"t":49.05,"y":0.5,"lo":-0.4,"hi":1.4},{"t":49.2,"y":0.7,"lo":-0.2,"hi":1.6},{"t":49.35,"y":1.1,"lo":0.2,"hi":2.0},{"t":49.47,"y":1.3,"lo":0.4,"hi":2.2},{"t":49.57,"y":1.2,"lo":0.3,"hi":2.1},{"t":49.67,"y":1.4,"lo":0.5,"hi":2.3},{"t":49.8,"y":1.0,"lo":0.1,"hi":1.9},{"t":49.9,"y":0.9,"lo":0.0,"hi":1.8},{"t":50.0,"y":0.8,"lo":-0.1,"hi":1.7}
    ],
    "Dr": [
      {"g":1,"t":36.55,"r":6.3},{"g":1,"t":36.63,"r":7.8},{"g":1,"t":36.68,"r":8.0},{"g":1,"t":36.73,"r":7.5},{"g":1,"t":36.8,"r":7.3},
      {"g":2,"t":37.55,"r":6.4},{"g":2,"t":37.62,"r":7.7},{"g":2,"t":37.67,"r":7.9},{"g":2,"t":37.72,"r":7.7},{"g":2,"t":37.8,"r":7.5},
      {"g":3,"t":38.55,"r":6.3},{"g":3,"t":38.62,"r":8.0},{"g":3,"t":38.67,"r":9.6},{"g":3,"t":38.72,"r":8.2},{"g":3,"t":38.8,"r":7.3},
      {"g":4,"t":39.55,"r":6.6},{"g":4,"t":39.62,"r":8.6},{"g":4,"t":39.67,"r":10.0},{"g":4,"t":39.72,"r":8.8},{"g":4,"t":39.8,"r":7.9},
      {"g":5,"t":40.55,"r":6.4},{"g":5,"t":40.62,"r":8.0},{"g":5,"t":40.67,"r":8.8},{"g":5,"t":40.72,"r":8.0},{"g":5,"t":40.8,"r":7.5},
      {"g":6,"t":43.55,"r":6.2},{"g":6,"t":43.62,"r":7.5},{"g":6,"t":43.67,"r":7.8},{"g":6,"t":43.72,"r":7.4},{"g":6,"t":43.8,"r":7.2},
      {"g":7,"t":44.55,"r":6.4},{"g":7,"t":44.62,"r":8.0},{"g":7,"t":44.67,"r":8.5},{"g":7,"t":44.72,"r":7.9},{"g":7,"t":44.8,"r":7.5},
      {"g":8,"t":45.55,"r":6.3},{"g":8,"t":45.62,"r":7.9},{"g":8,"t":45.67,"r":8.5},{"g":8,"t":45.72,"r":7.8},{"g":8,"t":45.8,"r":7.3},
      {"g":9,"t":46.55,"r":6.5},{"g":9,"t":46.62,"r":8.6},{"g":9,"t":46.67,"r":10.2},{"g":9,"t":46.72,"r":8.7},{"g":9,"t":46.8,"r":7.8},
      {"g":10,"t":47.55,"r":6.4},{"g":10,"t":47.62,"r":8.2},{"g":10,"t":47.67,"r":9.6},{"g":10,"t":47.72,"r":8.3},{"g":10,"t":47.8,"r":7.5}
    ]
  },
  "bounds": "flush",
  "spacing": 96.9,
  "resolve": {"scale": {"x": "independent", "y": "independent", "fill": "independent", "stroke": "independent", "shape": "independent"}},
  "vconcat": [
    {
      "width": 697.6,
      "height": 131,
      "title": {"text": "A", "anchor": "start", "frame": "group", "offset": 17.8, "dx": 4.5},
      "layer": [
        {
          "data": {"name": "A"},
          "mark": {"type": "area", "color": "#ccffcc"},
          "encoding": {
            "x": {"field": "t", "type": "quantitative", "scale": {"domain": [-2.724, 51.59], "range": [61.6, 697.6], "nice": false, "zero": false},
              "axis": {"title": "Time [2007-MM-DD]", "values": [0, 10, 20, 30, 40, 50], "labelExpr": "['09-01','09-11','09-21','10-01','10-11','10-21'][round(datum.value/10)]"}},
            "y": {"field": "lo", "type": "quantitative", "scale": {"domain": [0, 5], "nice": false, "zero": false},
              "axis": {"title": "xᴸᴸ [kT]", "offset": -61.6, "values": [0, 2.5, 5], "format": ".1f", "labelPadding": 5, "minExtent": 29, "maxExtent": 29, "titlePadding": 8.1}},
            "y2": {"field": "hi"}
          }
        },
        {
          "data": {"name": "A"},
          "mark": {"type": "line", "color": "black", "strokeWidth": 2},
          "encoding": {
            "x": {"field": "t", "type": "quantitative"},
            "y": {"field": "m", "type": "quantitative"}
          }
        },
        {
          "data": {"name": "cut"},
          "mark": {"type": "rule", "color": "#0000ff", "strokeWidth": 2, "strokeDash": [3, 2]},
          "encoding": {"x": {"field": "t", "type": "quantitative"}}
        },
        {
          "data": {"name": "legA"},
          "mark": {"type": "point", "filled": true, "opacity": 1, "clip": true},
          "encoding": {
            "x": {"datum": -100},
            "y": {"datum": 1},
            "fill": {"field": "lab", "type": "nominal",
              "scale": {"domain": ["μt|T ± σt|T", "μt|T"], "range": ["#ccffcc", "black"]},
              "legend": {"orient": "none", "legendX": 590, "legendY": 2, "title": null, "padding": 2, "rowPadding": 1,
                "labelFont": "Liberation Serif", "labelFontSize": 14, "labelFontStyle": "italic", "labelColor": "black", "labelOffset": 4,
                "symbolSize": 324, "symbolStrokeWidth": 0.8, "strokeColor": "#aaaaaa", "fillColor": "white", "cornerRadius": 0}},
            "shape": {"field": "lab", "type": "nominal",
              "scale": {"domain": ["μt|T ± σt|T", "μt|T"], "range": ["M-1,-0.4H1V0.4H-1Z", "M-1,-0.09H1V0.09H-1Z"]}},
            "stroke": {"field": "lab", "type": "nominal",
              "scale": {"domain": ["μt|T ± σt|T", "μt|T"], "range": ["#555555", "black"]}}
          }
        }
      ]
    },
    {
      "width": 691.7,
      "height": 129.7,
      "title": {"text": "B", "anchor": "start", "frame": "group", "offset": 4.7, "dx": 4},
      "data": {"name": "B"},
      "layer": [
        {
          "mark": {"type": "line", "color": "black", "strokeWidth": 1.5},
          "encoding": {
            "x": {"field": "t", "type": "quantitative", "scale": {"domain": [-2.618, 51.19], "range": [62.7, 691.7], "nice": false, "zero": false},
              "axis": {"title": "Time [2007-MM-DD]", "values": [0, 10, 20, 30, 40, 50], "labelExpr": "['09-01','09-11','09-21','10-01','10-11','10-21'][round(datum.value/10)]"}},
            "y": {"field": "v", "type": "quantitative", "scale": {"domain": [-4, 8], "nice": false, "zero": false},
              "axis": {"title": "xᴷᴿ⁰ [kT]", "offset": -62.7, "values": [-4, 0, 4, 8], "labelPadding": 4.4, "minExtent": 24.6, "maxExtent": 24.6, "titlePadding": 11.4}}
          }
        },
        {
          "data": {"name": "cut"},
          "mark": {"type": "rule", "color": "#0000ff", "strokeWidth": 2, "strokeDash": [3, 2]},
          "encoding": {"x": {"field": "t", "type": "quantitative"}}
        }
      ]
    },
    {
      "width": 690.7,
      "height": 127.3,
      "title": {"text": "C", "anchor": "start", "frame": "group", "offset": 3.1, "dx": 4},
      "layer": [
        {
          "data": {"name": "Cb"},
          "mark": {"type": "area", "color": "#ccffcc"},
          "encoding": {
            "x": {"field": "t", "type": "quantitative", "scale": {"domain": [-2.621, 51.08], "range": [76, 690.7], "nice": false, "zero": false},
              "axis": {"title": "Time [2007-MM-DD]", "values": [0, 10, 20, 30, 40, 50], "labelExpr": "['09-01','09-11','09-21','10-01','10-11','10-21'][round(datum.value/10)]"}},
            "y": {"field": "lo", "type": "quantitative", "scale": {"domain": [-3, 3], "nice": false, "zero": false},
              "axis": {"title": "xᴬᴿ [kT]", "offset": -76, "values": [-3, 0, 3], "format": ".1f", "labelPadding": 4.3, "minExtent": 38.8, "maxExtent": 38.8, "titlePadding": 10.5}},
            "y2": {"field": "hi"}
          }
        },
        {
          "data": {"name": "C"},
          "mark": {"type": "line", "color": "black", "strokeWidth": 1.4},
          "encoding": {
            "x": {"field": "t", "type": "quantitative"},
            "y": {"field": "v", "type": "quantitative"}
          }
        },
        {
          "data": {"name": "cut"},
          "mark": {"type": "rule", "color": "#0000ff", "strokeWidth": 2, "strokeDash": [3, 2]},
          "encoding": {"x": {"field": "t", "type": "quantitative"}}
        }
      ]
    },
    {
      "width": 690.7,
      "height": 132.4,
      "title": {"text": "D", "anchor": "start", "frame": "group", "offset": 13.4, "dx": 4.5},
      "layer": [
        {
          "data": {"name": "D"},
          "mark": {"type": "area", "color": "#ccffcc"},
          "encoding": {
            "x": {"field": "t", "type": "quantitative", "scale": {"domain": [-2.654, 51.14], "range": [54.3, 690.7], "nice": false, "zero": false},
              "axis": {"title": "Time [2007-MM-DD]", "values": [0, 10, 20, 30, 40, 50], "labelExpr": "['09-01','09-11','09-21','10-01','10-11','10-21'][round(datum.value/10)]"}},
            "y": {"field": "lo", "type": "quantitative", "scale": {"domain": [-1, 12], "nice": false, "zero": false},
              "axis": {"title": "Traffic load [kT]", "offset": -54.3, "values": [0, 6, 12], "labelPadding": 4.3, "minExtent": 23.3, "maxExtent": 23.3, "titlePadding": 6.5}},
            "y2": {"field": "hi"}
          }
        },
        {
          "data": {"name": "Dr"},
          "mark": {"type": "line", "color": "#ff0000", "strokeWidth": 1.5, "strokeDash": [4, 2, 1, 2]},
          "encoding": {
            "x": {"field": "t", "type": "quantitative"},
            "y": {"field": "r", "type": "quantitative"},
            "detail": {"field": "g", "type": "nominal"}
          }
        },
        {
          "data": {"name": "D"},
          "mark": {"type": "line", "color": "black", "strokeWidth": 1.6},
          "encoding": {
            "x": {"field": "t", "type": "quantitative"},
            "y": {"field": "y", "type": "quantitative"}
          }
        },
        {
          "data": {"name": "cut"},
          "mark": {"type": "rule", "color": "#0000ff", "strokeWidth": 2, "strokeDash": [3, 2]},
          "encoding": {"x": {"field": "t", "type": "quantitative"}}
        },
        {
          "data": {"name": "legD"},
          "mark": {"type": "point", "filled": true, "opacity": 1, "clip": true},
          "encoding": {
            "x": {"datum": -100},
            "y": {"datum": 1},
            "fill": {"field": "lab", "type": "nominal",
              "scale": {"domain": ["yₜ ± σᵥ", "yₜ"], "range": ["#ffcccc", "#ff0000"]},
              "legend": {"orient": "none", "legendX": 559, "legendY": -8, "title": null, "padding": 2, "rowPadding": 1,
                "labelFont": "Liberation Serif", "labelFontSize": 14, "labelFontStyle": "italic", "labelColor": "black", "labelOffset": 4,
                "symbolSize": 324, "symbolStrokeWidth": 0.8, "strokeColor": "#aaaaaa", "fillColor": "white", "cornerRadius": 0}},
            "shape": {"field": "lab", "type": "nominal",
              "scale": {"domain": ["yₜ ± σᵥ", "yₜ"], "range": ["M-1,-0.4H1V0.4H-1Z", "M-1,-0.08H-0.45V0.08H-1Z M-0.3,-0.08H-0.2V0.08H-0.3Z M-0.05,-0.08H0.5V0.08H-0.05Z M0.65,-0.08H0.75V0.08H0.65Z M0.9,-0.08H1V0.08H0.9Z"]}},
            "stroke": {"field": "lab", "type": "nominal",
              "scale": {"domain": ["yₜ ± σᵥ", "yₜ"], "range": ["#777777", "#ff0000"]}}
          }
        }
      ]
    }
  ],
  "config": {
    "view": {"stroke": null},
    "title": {"font": "Liberation Sans", "fontSize": 15, "fontWeight": "bold", "color": "black"},
    "axis": {
      "grid": false, "ticks": false, "domainColor": "#999999", "domainWidth": 1.5,
      "labelFont": "Liberation Serif", "labelFontSize": 18.7, "labelColor": "black", "labelFlush": false,
      "titleFont": "Liberation Serif", "titleFontSize": 20, "titleFontWeight": "normal", "titleColor": "black"
    },
    "axisX": {"labelPadding": 2, "titlePadding": 2}
  }
}
